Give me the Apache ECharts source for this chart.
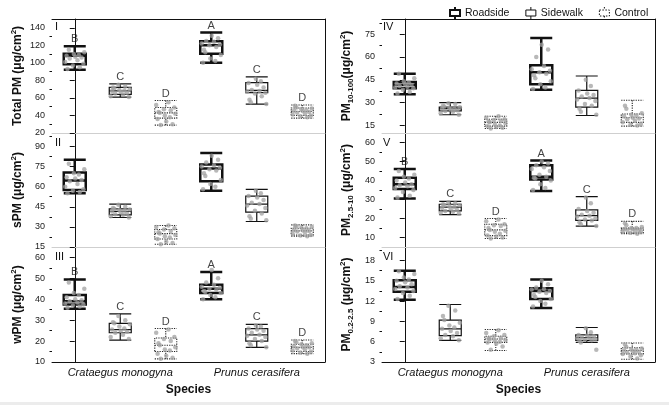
<!DOCTYPE html>
<html>
<head>
<meta charset="utf-8">
<script src="https://cdn.jsdelivr.net/npm/echarts@6/dist/echarts.min.js"></script>
<style>
  html, body { margin: 0; padding: 0; background: #fff; }
  #chart { width: 669px; height: 405px; }
</style>
</head>
<body>
<div id="chart"></div>
<script>
/* global echarts */
const treatments = ["Roadside", "Sidewalk", "Control"];
const species = ["Crataegus monogyna", "Prunus cerasifera"];
// six box slots: CM-Roadside, CM-Sidewalk, CM-Control, PC-Roadside, PC-Sidewalk, PC-Control
const slots = ["CM-R", "CM-S", "CM-C", "PC-R", "PC-S", "PC-C"];

// box stats [min, Q1, median, Q3, max]
const boxI = [[92, 98.5, 108, 110.5, 119], [61, 64, 68, 72, 76], [29, 37, 43, 49, 57],
              [100, 110.5, 120, 124.5, 134.5], [53, 66, 68.5, 77.5, 84], [37, 40, 44.5, 48.5, 52]];
const boxII = [[55, 57.5, 64.5, 70.5, 80], [37, 39, 41.5, 43.5, 47], [17, 21, 25, 28, 31],
               [57, 64, 73.5, 76.5, 85], [34, 41, 47, 53, 58], [23, 24, 27, 29, 31.5]];
const boxIII = [[35.5, 37.5, 39, 42, 49.5], [20.5, 24, 25.5, 28.5, 33], [11.5, 15, 18, 21.5, 26],
                [40, 43, 45, 47, 53], [17, 20, 23, 26, 28], [14, 15, 17, 18.5, 20.5]];
const boxIV = [[35.5, 39.5, 41.5, 43.5, 49], [22, 24.5, 26, 27, 30], [13, 14.5, 17, 19, 21],
               [38.5, 42, 50, 54.5, 72.5], [21.5, 27, 33, 38, 47.5], [14.5, 17, 20, 22.5, 31.5]];
const boxV = [[30.5, 35.5, 38, 41.5, 46], [22, 24, 26, 27.5, 29], [9.5, 11, 14, 17, 20],
              [34.5, 40.5, 42, 48, 50.5], [16, 19, 21.5, 24.5, 31.5], [12, 12.5, 14.5, 15, 18.5]];
const boxVI = [[12.2, 13.4, 14.1, 15.1, 16.5], [6.2, 6.9, 7.9, 9.2, 11.5], [4.7, 5.9, 6.4, 6.8, 7.8],
               [11, 12.3, 13.5, 13.9, 15.2], [5.9, 6.2, 6.6, 7, 8.1], [3.4, 4.2, 4.7, 5.1, 5.8]];

// individual samples per box
const ptsI = [
  [93, 95, 97, 99, 101, 103, 105, 106, 107, 108, 109, 110, 112, 115],
  [61, 62, 63.5, 65, 66, 67, 68, 68.5, 69, 70, 71, 72, 73, 75],
  [29, 30, 33, 36, 38, 40, 42, 43, 44, 46, 47, 49, 52, 55],
  [100, 102, 105, 109, 112, 115, 118, 120, 121, 122, 124, 125, 128, 131],
  [53, 55, 58, 62, 65, 66, 67, 68, 69, 72, 75, 77, 79, 82],
  [38, 39, 40, 41, 42, 43, 44, 45, 45.5, 46, 47, 48, 49, 51]
];
const ptsII = [
  [55, 56, 57, 58, 60, 62, 64, 65, 66, 67, 69, 70, 73, 77],
  [37, 38, 39, 39.5, 40, 41, 41.5, 42, 42.5, 43, 43.5, 44, 45, 46.5],
  [17, 18, 19, 21, 22, 23, 24, 25, 26, 27, 28, 29, 30, 31],
  [58, 60, 62, 65, 68, 70, 72, 73, 74, 75, 76, 78, 80, 83],
  [35, 36, 38, 40, 42, 44, 46, 47, 48, 50, 52, 53, 55, 57],
  [23, 23.5, 24, 25, 26, 26.5, 27, 27.5, 28, 29, 29.5, 30, 30.5, 31]
];
const ptsIII = [
  [36, 36.5, 37, 37.5, 38, 38.5, 39, 39.5, 40, 41, 42, 43, 45, 48],
  [21, 22, 23, 24, 24.5, 25, 25.5, 26, 27, 28, 28.5, 29, 30, 32],
  [11.5, 12, 13, 14, 15.5, 16, 17, 18, 19, 20, 21, 22, 24, 25.5],
  [40, 41, 42, 43, 43.5, 44, 44.5, 45, 45.5, 46, 47, 48, 50, 54],
  [17, 18, 19, 20, 21, 22, 22.5, 23, 24, 25, 25.5, 26, 27, 27.5],
  [14, 14.5, 15, 15.5, 16, 16.5, 17, 17, 17.5, 18, 18.5, 19, 19.5, 20]
];
const ptsIV = [
  [36, 37, 38.5, 39.5, 40, 40.5, 41, 41.5, 42, 42.5, 43, 44, 46, 49],
  [22, 23, 24, 24.5, 25, 25.5, 26, 26, 26.5, 27, 27.5, 28, 29, 29.5],
  [13, 13.5, 14, 14.5, 15, 16, 16.5, 17, 17.5, 18, 18.5, 19, 20, 21],
  [39, 40, 42, 44, 46, 48, 49, 50, 51, 52, 54, 60, 65, 68],
  [22, 24, 26, 28, 29, 31, 32, 33, 34, 35, 36, 38, 41, 45],
  [15, 15.5, 16, 17, 18, 19, 19.5, 20, 21, 21.5, 22, 23, 26, 28]
];
const ptsV = [
  [31, 32, 34, 35, 36, 37, 37.5, 38, 39, 40, 41, 42, 43, 45],
  [22.5, 23, 23.5, 24, 24.5, 25, 25.5, 26, 26.5, 27, 27, 27.5, 28, 28.5],
  [9.5, 10, 10.5, 11, 12, 13, 13.5, 14, 15, 16, 16.5, 17, 18.5, 19.5],
  [35, 36, 38, 40, 41, 41.5, 42, 43, 45, 46, 47, 48, 49, 50],
  [16, 17, 18, 19, 19.5, 20, 21, 21.5, 22, 23, 24, 25, 28, 31],
  [12, 12.5, 13, 13, 13.5, 14, 14, 14.5, 14.5, 15, 15, 15.5, 16.5, 17.5]
];
const ptsVI = [
  [12.3, 12.8, 13.2, 13.5, 13.8, 14, 14.2, 14.5, 14.8, 15, 15.2, 15.5, 16, 16.4],
  [6.2, 6.5, 6.8, 7, 7.3, 7.6, 7.9, 8.1, 8.4, 8.8, 9.2, 9.8, 10.6, 11.3],
  [4.8, 5.3, 5.7, 5.9, 6, 6.2, 6.3, 6.4, 6.5, 6.6, 6.8, 7, 7.3, 7.7],
  [11.2, 11.6, 12, 12.3, 12.6, 12.9, 13.2, 13.4, 13.5, 13.7, 13.8, 14, 14.5, 15],
  [4.8, 5.9, 6.1, 6.2, 6.3, 6.4, 6.5, 6.6, 6.7, 6.8, 6.9, 7, 7.4, 8],
  [3.5, 3.8, 4, 4.2, 4.3, 4.4, 4.5, 4.6, 4.7, 4.8, 4.9, 5, 5.2, 5.6]
];
// horizontal jitter of samples (in slot widths)
const jitter = [-0.16, 0.11, -0.04, 0.19, -0.21, 0.06, -0.11, 0.15, 0.01, -0.18, 0.09, -0.02, 0.21, -0.13];

// significance letters
const lettersI = ["B", "C", "D", "A", "C", "D"];
const lettersIII = ["B", "C", "D", "A", "C", "D"];
const lettersV = ["B", "C", "D", "A", "C", "D"];

// y ticks
const ticksI = [20, 40, 60, 80, 100, 120, 140];
const minorI = [30, 50, 70, 90, 110, 130];
const ticksII = [15, 30, 45, 60, 75, 90];
const minorII = [22.5, 37.5, 52.5, 67.5, 82.5, 97.5];
const ticksIII = [10, 20, 30, 40, 50, 60];
const minorIII = [15, 25, 35, 45, 55];
const ticksIV = [15, 30, 45, 60, 75];
const minorIV = [22.5, 37.5, 52.5, 67.5, 82.5];
const ticksV = [10, 20, 30, 40, 50, 60];
const minorV = [15, 25, 35, 45, 55];
const ticksVI = [3, 6, 9, 12, 15, 18];
const minorVI = [4.5, 7.5, 10.5, 13.5, 16.5, 19.5];

const FONT = "'Liberation Sans', Arial, sans-serif";
const INK = "#111";

const panels = [
  { box: boxI, pts: ptsI, letters: lettersI, ticks: ticksI, minor: minorI, min: 20, max: 150, col: 0, row: 0, num: "I",
    title: "{b|Total PM (\u03bcg/cm}{s|2}{b|)}" },
  { box: boxII, pts: ptsII, letters: null, ticks: ticksII, minor: minorII, min: 15, max: 100, col: 0, row: 1, num: "II",
    title: "{b|sPM (\u03bcg/cm}{s|2}{b|)}" },
  { box: boxIII, pts: ptsIII, letters: lettersIII, ticks: ticksIII, minor: minorIII, min: 10, max: 65, col: 0, row: 2, num: "III",
    title: "{b|wPM (\u03bcg/cm}{s|2}{b|)}" },
  { box: boxIV, pts: ptsIV, letters: null, ticks: ticksIV, minor: minorIV, min: 10, max: 85, col: 1, row: 0, num: "IV",
    title: "{b|PM}{u|10-100}{b|(\u03bcg/cm}{s|2}{b|)}" },
  { box: boxV, pts: ptsV, letters: lettersV, ticks: ticksV, minor: minorV, min: 5, max: 65, col: 1, row: 1, num: "V",
    title: "{b|PM}{u|2.5-10}{b| (\u03bcg/cm}{s|2}{b|)}" },
  { box: boxVI, pts: ptsVI, letters: null, ticks: ticksVI, minor: minorVI, min: 3, max: 20, col: 1, row: 2, num: "VI",
    title: "{b|PM}{u|0.2-2.5}{b| (\u03bcg/cm}{s|2}{b|)}" }
];

const colLeft = [52, 382];
const colWidth = 273;
const rowTop = [19, 133, 247];
const rowHeight = [114, 114, 115];

const boxStyles = [
  { color: "#fff", borderColor: INK, borderWidth: 2.5 },
  { color: "#fff", borderColor: INK, borderWidth: 1.2 },
  { color: "#fff", borderColor: "#222", borderWidth: 1.1, borderType: [1.2, 1.2] }
];

const titleRich = {
  b: { fontSize: 12, fontWeight: "bold", color: INK, fontFamily: FONT, lineHeight: 16 },
  s: { fontSize: 8, fontWeight: "bold", color: INK, fontFamily: FONT, verticalAlign: "top", lineHeight: 8 },
  u: { fontSize: 8, fontWeight: "bold", color: INK, fontFamily: FONT, verticalAlign: "bottom", lineHeight: 10 }
};

const grid = [], xAxis = [], yAxis = [], series = [], title = [];
let legendAxis = 0;

panels.forEach(function (p, g) {
  const bottomRow = p.row === 2;
  grid.push({ left: colLeft[p.col], top: rowTop[p.row], width: colWidth, height: rowHeight[p.row] });

  const xCat = xAxis.length;
  xAxis.push({
    type: "category", gridIndex: g, data: slots, position: "bottom",
    axisLine: { lineStyle: { color: bottomRow ? INK : "#cfcfcf", width: 1 } },
    axisTick: { show: false }, axisLabel: { show: false }
  });
  const xVal = xAxis.length;
  xAxis.push({ type: "value", gridIndex: g, min: -0.5, max: 5.5, show: false });
  if (p.row === 0) {
    if (g === 0) legendAxis = xAxis.length;
    xAxis.push({
      type: "category", gridIndex: g, data: slots, position: "top",
      axisLine: { lineStyle: { color: INK } }, axisTick: { show: false }, axisLabel: { show: false }
    });
  }
  if (bottomRow) {
    xAxis.push({
      type: "category", gridIndex: g, data: species, position: "bottom",
      axisLine: { show: false }, axisTick: { show: false },
      axisLabel: { interval: 0, fontSize: 11, fontStyle: "italic", color: INK, fontFamily: FONT, margin: 5 },
      name: "Species", nameLocation: "middle", nameGap: 22,
      nameTextStyle: { fontSize: 12, fontWeight: "bold", color: INK, fontFamily: FONT }
    });
  }

  const yMain = yAxis.length;
  yAxis.push({
    type: "value", gridIndex: g, min: p.min, max: p.max, position: "left",
    axisLine: { show: true, lineStyle: { color: INK } },
    axisTick: { show: true, length: 5, customValues: p.ticks, lineStyle: { color: INK } },
    axisLabel: { customValues: p.ticks, fontSize: 9, color: "#1a1a1a", fontFamily: FONT, margin: 7 },
    splitLine: { show: false },
    name: p.title, nameLocation: "middle", nameGap: p.col === 0 ? 26 : 27,
    nameTextStyle: { rich: titleRich }
  });
  yAxis.push({
    type: "value", gridIndex: g, min: p.min, max: p.max, position: "left",
    axisLine: { show: false },
    axisTick: { show: true, length: 2.5, customValues: p.minor, lineStyle: { color: INK } },
    axisLabel: { show: false }, splitLine: { show: false }
  });
  yAxis.push({
    type: "value", gridIndex: g, min: p.min, max: p.max, position: "right",
    axisLine: { show: true, lineStyle: { color: INK } },
    axisTick: { show: false }, axisLabel: { show: false }, splitLine: { show: false }
  });

  series.push({
    type: "boxplot", xAxisIndex: xCat, yAxisIndex: yMain, boxWidth: [22, 22], z: 2,
    data: p.box.map(function (b, i) { return { value: b, itemStyle: boxStyles[i % 3] }; })
  });

  const pts = [];
  p.pts.forEach(function (vals, b) {
    vals.forEach(function (v, j) { pts.push([b + jitter[(j + 3 * b) % jitter.length], v]); });
  });
  series.push({
    type: "scatter", xAxisIndex: xVal, yAxisIndex: yMain, symbolSize: 4.5, z: 3,
    itemStyle: { color: "#a0a0a0", opacity: 0.75 }, data: pts
  });

  if (p.letters) {
    const letters = p.letters;
    series.push({
      type: "scatter", xAxisIndex: xVal, yAxisIndex: yMain, symbolSize: 0, z: 4,
      data: p.box.map(function (b, i) { return [i, b[4]]; }),
      label: {
        show: true, position: "top", distance: 1.5, fontSize: 11, color: INK, fontFamily: FONT,
        formatter: function (d) { return letters[d.dataIndex]; }
      }
    });
  }

  title.push({
    text: p.num, left: p.col === 0 ? 55 : 383, top: rowTop[p.row] + (p.row === 0 ? 2 : 4), padding: 0,
    textStyle: { fontSize: 11, fontWeight: "normal", color: INK, fontFamily: FONT }
  });
});

// legend-only series (kept on their own axis so they don't shift the real boxes)
treatments.forEach(function (t, i) {
  series.push({ type: "boxplot", name: t, xAxisIndex: legendAxis, yAxisIndex: 0, data: [], itemStyle: boxStyles[i] });
});

const legendIcon = "path://M5,0L5,3M0,3L10,3L10,9L0,9ZM5,9L5,12";

const chart = echarts.init(document.getElementById("chart"));
chart.setOption({
  animation: false,
  backgroundColor: "#fff",
  textStyle: { fontFamily: FONT },
  title: title,
  legend: {
    left: 444, top: 1, itemWidth: 10, itemHeight: 12, itemGap: 16,
    textStyle: { fontSize: 10.5, color: INK, fontFamily: FONT },
    data: treatments.map(function (t, i) {
      return {
        name: t, icon: legendIcon,
        itemStyle: {
          color: "#fff", borderColor: INK, borderWidth: i === 0 ? 2 : 1,
          borderType: i === 2 ? [1.5, 1.5] : "solid"
        }
      };
    })
  },
  graphic: [{ type: "rect", left: 0, bottom: 0, shape: { width: 669, height: 3 }, style: { fill: "#ececec" }, silent: true }],
  grid: grid,
  xAxis: xAxis,
  yAxis: yAxis,
  series: series
});
</script>
</body>
</html>
